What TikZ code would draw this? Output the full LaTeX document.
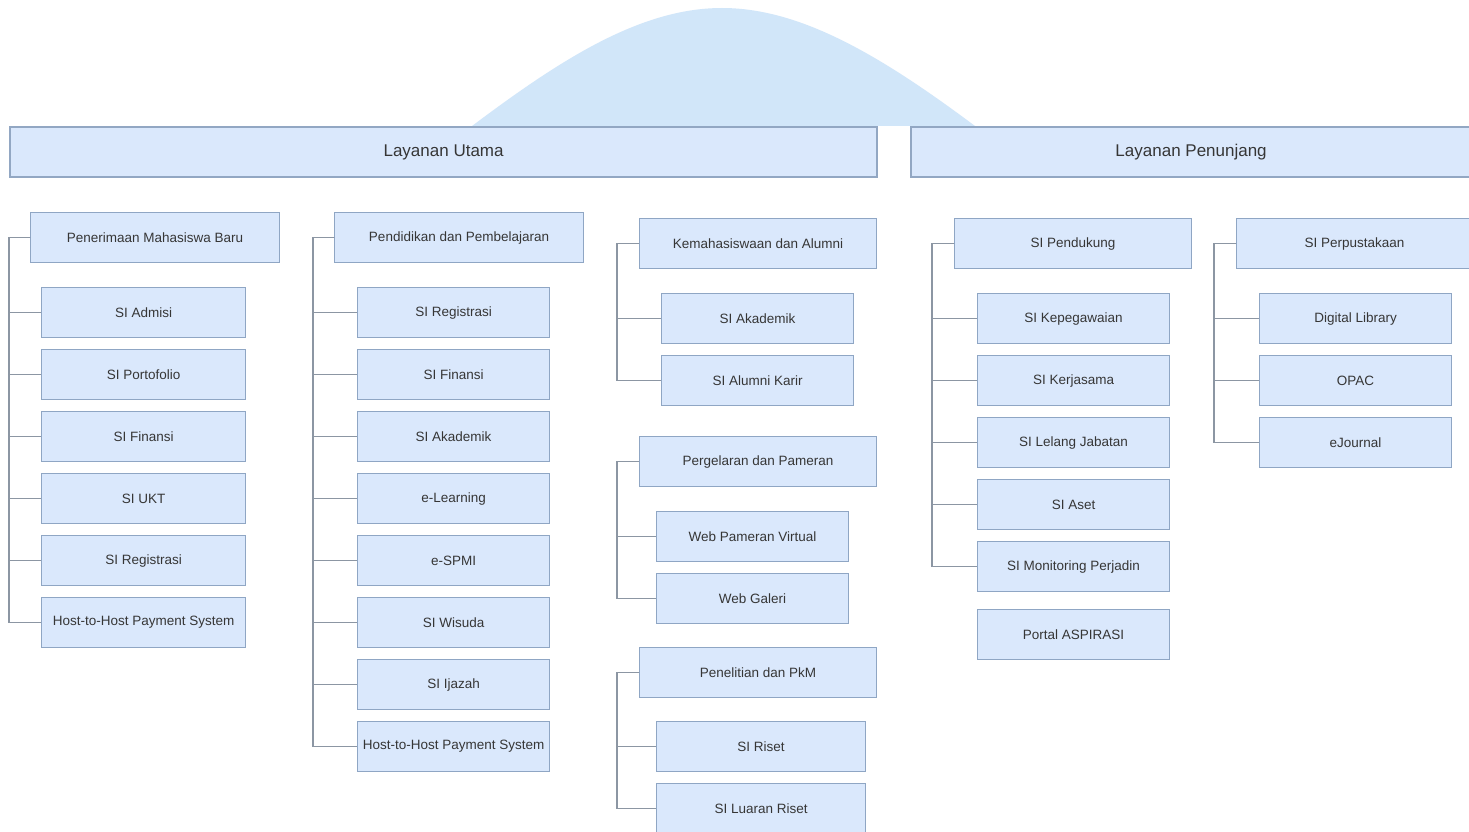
\documentclass[tikz,border=0pt]{standalone}
\usepackage{fontspec}
\setmainfont{Liberation Sans}
\definecolor{boxfill}{HTML}{DAE8FC}
\definecolor{boxline}{HTML}{8FA6C4}
\definecolor{headline}{HTML}{92A7C3}
\definecolor{domefill}{HTML}{D1E6F9}
\definecolor{connc}{HTML}{8C96A3}
\definecolor{txt}{HTML}{363636}
\tikzset{
  box/.style={draw=boxline, fill=boxfill, line width=1.1pt, minimum height=50pt,
    inner sep=0pt, anchor=north west, text=txt, font=\fontsize{13.5}{16}\selectfont},
  head/.style={box, draw=headline, line width=2.2pt, font=\fontsize{17}{20}\selectfont},
  conn/.style={draw=connc, line width=1.2pt},
}
\begin{document}
\begin{tikzpicture}[x=1pt,y=-1pt]
\clip (0,0) rectangle (1469,832);
\fill[white] (0,0) rectangle (1469,832);

% dome behind the two headers
\fill[domefill] (472,126) .. controls (560,60) and (640,8) .. (722,8)
  .. controls (800,8) and (880,55) .. (975,126) -- cycle;

% headers
\node[head, minimum width=867pt] (utama) at (9,126) {Layanan Utama};
\node[head, minimum width=560pt] (penunjang) at (910,126) {Layanan Penunjang};

% column 1
\coordinate (t1) at (9,0);
\node[box, minimum width=249pt] (pmb) at (30,212) {Penerimaan Mahasiswa Baru};
\node[box, minimum width=204pt] (a1) at (41,287) {SI Admisi};
\node[box, minimum width=204pt] (a2) at (41,349) {SI Portofolio};
\node[box, minimum width=204pt] (a3) at (41,411) {SI Finansi};
\node[box, minimum width=204pt] (a4) at (41,473) {SI UKT};
\node[box, minimum width=204pt] (a5) at (41,535) {SI Registrasi};
\node[box, minimum width=204pt] (a6) at (41,597) {Host-to-Host Payment System};
\foreach \c in {a1,a2,a3,a4,a5,a6}
  \draw[conn] (pmb.west) -- (pmb.west -| t1) |- (\c.west);

% column 2
\coordinate (t2) at (313,0);
\node[box, minimum width=249pt] (pdp) at (334,212) {Pendidikan dan Pembelajaran};
\node[box, minimum width=192pt] (b1) at (357,287) {SI Registrasi};
\node[box, minimum width=192pt] (b2) at (357,349) {SI Finansi};
\node[box, minimum width=192pt] (b3) at (357,411) {SI Akademik};
\node[box, minimum width=192pt] (b4) at (357,473) {e-Learning};
\node[box, minimum width=192pt] (b5) at (357,535) {e-SPMI};
\node[box, minimum width=192pt] (b6) at (357,597) {SI Wisuda};
\node[box, minimum width=192pt] (b7) at (357,659) {SI Ijazah};
\node[box, minimum width=192pt] (b8) at (357,721) {Host-to-Host Payment System};
\foreach \c in {b1,b2,b3,b4,b5,b6,b7,b8}
  \draw[conn] (pdp.west) -- (pdp.west -| t2) |- (\c.west);

% column 3
\coordinate (t3) at (617,0);
\node[box, minimum width=237pt] (kma) at (639,218) {Kemahasiswaan dan Alumni};
\node[box, minimum width=192pt] (c1) at (661,293) {SI Akademik};
\node[box, minimum width=192pt] (c2) at (661,355) {SI Alumni Karir};
\foreach \c in {c1,c2}
  \draw[conn] (kma.west) -- (kma.west -| t3) |- (\c.west);

\node[box, minimum width=237pt] (pp) at (639,436) {Pergelaran dan Pameran};
\node[box, minimum width=192pt] (d1) at (656,511) {Web Pameran Virtual};
\node[box, minimum width=192pt] (d2) at (656,573) {Web Galeri};
\foreach \c in {d1,d2}
  \draw[conn] (pp.west) -- (pp.west -| t3) |- (\c.west);

\node[box, minimum width=237pt] (pkm) at (639,647) {Penelitian dan PkM};
\node[box, minimum width=209pt] (e1) at (656,721) {SI Riset};
\node[box, minimum width=209pt] (e2) at (656,783) {SI Luaran Riset};
\foreach \c in {e1,e2}
  \draw[conn] (pkm.west) -- (pkm.west -| t3) |- (\c.west);

% column 4
\coordinate (t4) at (932,0);
\node[box, minimum width=237pt] (pdk) at (954,218) {SI Pendukung};
\node[box, minimum width=192pt] (f1) at (977,293) {SI Kepegawaian};
\node[box, minimum width=192pt] (f2) at (977,355) {SI Kerjasama};
\node[box, minimum width=192pt] (f3) at (977,417) {SI Lelang Jabatan};
\node[box, minimum width=192pt] (f4) at (977,479) {SI Aset};
\node[box, minimum width=192pt] (f5) at (977,541) {SI Monitoring Perjadin};
\node[box, minimum width=192pt] (f6) at (977,609) {Portal ASPIRASI};
\foreach \c in {f1,f2,f3,f4,f5}
  \draw[conn] (pdk.west) -- (pdk.west -| t4) |- (\c.west);

% column 5
\coordinate (t5) at (1214,0);
\node[box, minimum width=236pt] (pus) at (1236,218) {SI Perpustakaan};
\node[box, minimum width=192pt] (g1) at (1259,293) {Digital Library};
\node[box, minimum width=192pt] (g2) at (1259,355) {OPAC};
\node[box, minimum width=192pt] (g3) at (1259,417) {eJournal};
\foreach \c in {g1,g2,g3}
  \draw[conn] (pus.west) -- (pus.west -| t5) |- (\c.west);
\end{tikzpicture}
\end{document}
